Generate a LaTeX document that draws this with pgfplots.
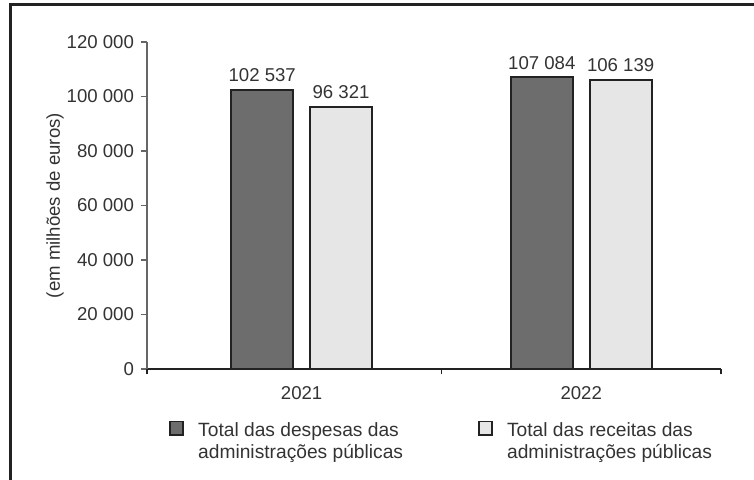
\documentclass[border=0pt]{standalone}
\usepackage{pgfplots}
\pgfplotsset{compat=1.18}
\usepackage{fontspec}
\setmainfont{Liberation Sans}
\definecolor{darkbar}{HTML}{6D6D6D}
\definecolor{lightbar}{HTML}{E6E6E6}
\definecolor{edge}{HTML}{222222}
\definecolor{txt}{HTML}{333333}
\pgfkeys{/pgfplots/sqlegend/.style={/pgfplots/legend image code/.code={\draw[##1, line width=0.9pt] (0pt,-2pt) rectangle (6.6pt,4.6pt);}}}
\begin{document}
\begin{tikzpicture}
\path[use as bounding box] (-73.5pt,-55.5pt) rectangle (303.5pt,184.5pt);
\draw[line width=1.5pt, edge] (-68pt,-60pt) -- (-68pt,182pt) -- (310pt,182pt);
\begin{axis}[
  scale only axis, width=287pt, height=163.5pt,
  xmin=-0.553, xmax=1.5, ymin=0, ymax=120000,
  ybar, bar width=0.222,
  axis lines*=left,
  x axis line style={edge, line width=1pt},
  y axis line style={black!60, line width=0.6pt},
  font=\fontsize{9.3}{11}\selectfont, 
  every tick label/.append style={text=txt},
  /pgf/number format/assume math mode=true,
  /pgf/number format/fixed, /pgf/number format/precision=0,
  /pgf/number format/1000 sep={\ },
  scaled y ticks=false,
  ytick={0,20000,40000,60000,80000,100000,120000},
  ytick style={black!60, line width=0.6pt},
  tick align=outside, major tick length=3pt,
  xtick={0,1}, xticklabels={2021,2022},
  xtick style={draw=none},
  xticklabel style={yshift=-2pt},
  extra x ticks={-0.553,0.5,1.5}, extra x tick labels={},
  extra x tick style={xtick style={draw=edge, line width=0.9pt}, major tick length=2.7pt},
  ylabel={(em milhões de euros)},
  ylabel style={at={(axis description cs:-0.16,0.5)}, anchor=center, text=txt},
  nodes near coords,
  nodes near coords style={text=txt, font=\fontsize{9.3}{11}\selectfont},
  legend columns=2,
  legend cell align=left,
  legend style={at={(axis description cs:0.038,-0.147)}, anchor=north west, draw=none, fill=none,
    inner sep=0pt, column sep=5pt, text=txt, font=\fontsize{9.6}{11}\selectfont,
    /tikz/every even column/.append style={column sep=35.5pt}},
]
\addplot[bar shift=-0.141, fill=darkbar, draw=edge, line width=1pt, sqlegend]
  coordinates {(0,102537) (1,107084)};
\addlegendentry{\begin{tabular}[t]{@{}l@{}}Total das despesas das\\administrações públicas\end{tabular}}
\addplot[bar shift=0.141, fill=lightbar, draw=edge, line width=1pt, sqlegend]
  coordinates {(0,96321) (1,106139)};
\addlegendentry{\begin{tabular}[t]{@{}l@{}}Total das receitas das\\administrações públicas\end{tabular}}
\end{axis}
\end{tikzpicture}
\end{document}
